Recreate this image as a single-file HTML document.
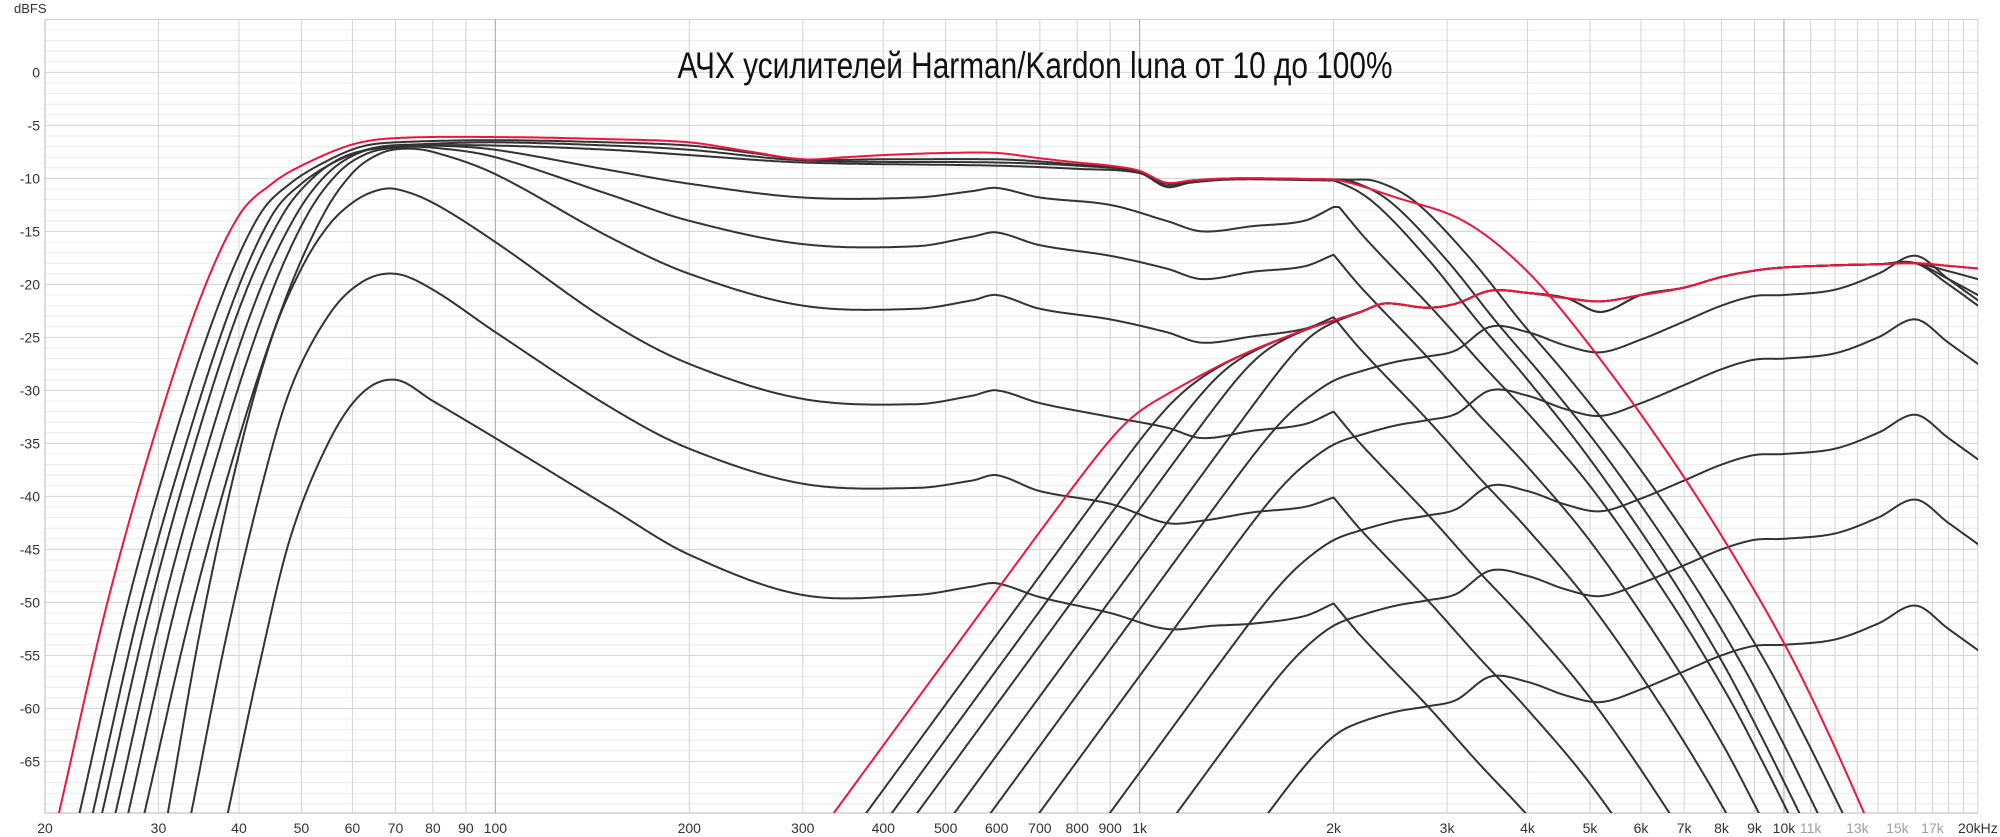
<!DOCTYPE html>
<html><head><meta charset="utf-8">
<style>
html,body{margin:0;padding:0;background:#fff;}
svg{display:block;}
text{font-family:"Liberation Sans","DejaVu Sans",sans-serif;}
</style></head>
<body>
<svg id="c" width="2000" height="837" viewBox="0 0 2000 837" xmlns="http://www.w3.org/2000/svg">
<rect width="2000" height="837" fill="#fff"/>
<g id="grid"></g>
<g id="labels" font-size="14" fill="#333"></g>
<text x="1035" y="78" font-size="37" fill="#111" text-anchor="middle" textLength="715" lengthAdjust="spacingAndGlyphs" font-family="Liberation Sans, Noto Sans CJK SC, sans-serif">АЧХ усилителей Harman/Kardon luna от 10 до 100%</text>
<text x="14" y="13" font-size="13" fill="#333">dBFS</text>
<defs><clipPath id="cp"><rect x="45" y="19.5" width="1933" height="793.5"/></clipPath></defs>
<g id="curves" clip-path="url(#cp)" fill="none" stroke-linejoin="round" stroke-linecap="round"></g>
</svg>
<script>
const L=45,R=1978,T=19.5,B=813;
const X=f=>45+644.3*Math.log10(f/20);
const Y=d=>72.4-10.6*d;
const NS="http://www.w3.org/2000/svg";
function el(p,n,a,t){const e=document.createElementNS(NS,n);for(const k in a)e.setAttribute(k,a[k]);if(t!==undefined)e.textContent=t;p.appendChild(e);return e;}
const grid=document.getElementById('grid'),lab=document.getElementById('labels'),cur=document.getElementById('curves');
for(let d=5;d>=-69;d--){const y=Y(d);el(grid,'line',{x1:L,x2:R,y1:y,y2:y,stroke:(d%5===0)?'#d2d2d2':'#ececec','stroke-width':1});}
el(grid,'line',{x1:L,x2:R,y1:T,y2:T,stroke:'#d2d2d2','stroke-width':1});
el(grid,'line',{x1:L,x2:R,y1:B,y2:B,stroke:'#cfcfcf','stroke-width':1.5});
const vf=[];for(let f=20;f<100;f+=10)vf.push(f);for(let f=100;f<1000;f+=100)vf.push(f);for(let f=1000;f<10000;f+=1000)vf.push(f);for(let f=10000;f<=20000;f+=1000)vf.push(f);
vf.forEach(f=>{const x=X(f);const major=(f===100||f===1000||f===10000);el(grid,'line',{x1:x,x2:x,y1:T,y2:B,stroke:major?'#a4a4a4':'#d4d4d4','stroke-width':1});});
el(grid,'line',{x1:L,x2:L,y1:T,y2:B,stroke:'#cfcfcf','stroke-width':1.5});
for(let d=0;d>=-65;d-=5){el(lab,'text',{x:40,y:Y(d)+5,'text-anchor':'end'},String(d));}
const xl=[[20,'20'],[30,'30'],[40,'40'],[50,'50'],[60,'60'],[70,'70'],[80,'80'],[90,'90'],[100,'100'],[200,'200'],[300,'300'],[400,'400'],[500,'500'],[600,'600'],[700,'700'],[800,'800'],[900,'900'],[1000,'1k'],[2000,'2k'],[3000,'3k'],[4000,'4k'],[5000,'5k'],[6000,'6k'],[7000,'7k'],[8000,'8k'],[9000,'9k'],[10000,'10k'],[11000,'11k',1],[13000,'13k',1],[15000,'15k',1],[17000,'17k',1],[20000,'20kHz']];
xl.forEach(a=>{const t=el(lab,'text',{x:X(a[0]),y:833,'text-anchor':'middle'},a[1]);if(a[2])t.setAttribute('fill','#a0a0a0');});

function mk(pts){const xs=pts.map(p=>Math.log10(p[0])),ys=pts.map(p=>p[1]);const n=xs.length;const m=[];
 for(let i=0;i<n;i++){if(i===0)m.push((ys[1]-ys[0])/(xs[1]-xs[0]));else if(i===n-1)m.push((ys[n-1]-ys[n-2])/(xs[n-1]-xs[n-2]));else m.push((ys[i+1]-ys[i-1])/(xs[i+1]-xs[i-1]));}
 return function(f){const x=Math.log10(f);
  if(x<=xs[0])return ys[0]+m[0]*(x-xs[0]);
  if(x>=xs[n-1])return ys[n-1]+m[n-1]*(x-xs[n-1]);
  let i=0;while(x>xs[i+1])i++;const h=xs[i+1]-xs[i],t=(x-xs[i])/h;
  const h00=2*t*t*t-3*t*t+1,h10=t*t*t-2*t*t+t,h01=-2*t*t*t+3*t*t,h11=t*t*t-t*t;
  return h00*ys[i]+h10*h*m[i]+h01*ys[i+1]+h11*h*m[i+1];};}
function softmin(a,b,k){const mn=Math.min(a,b);return mn-k*Math.log(Math.exp((mn-a)/k)+Math.exp((mn-b)/k));}
function draw(fn,color,w){let d='';let first=true;
 for(let lx=Math.log10(19);lx<=Math.log10(21000);lx+=0.0015){const f=Math.pow(10,lx);let v=fn(f);if(v<-75)v=-75;if(v>10)v=10;
  d+=(first?'M':'L')+X(f).toFixed(1)+' '+Y(v).toFixed(1);first=false;}
 el(cur,'path',{d:d,stroke:color,'stroke-width':w});}

const Rdef=mk([[2000,0],[2200,-3],[2800,-9.7],[3350,-15],[4000,-20],[5000,-27],[6500,-37],[8000,-46],[9200,-53],[10300,-59],[11300,-64],[12000,-67],[12600,-70],[13300,-74]]);
const Rsm0=mk([[1500,0],[1800,0],[2000,-0.2],[2300,-2.2],[2800,-7.6],[3350,-13.5],[4000,-19],[5000,-26.5],[6500,-36.5],[8000,-45.5],[9200,-52.5],[10300,-58.5],[11300,-63.5],[12000,-66.5],[12600,-69.5],[13300,-73.5]]);
const Rtop0=mk([[1500,0],[2000,-0.3],[2500,-2],[3200,-4.3],[4000,-9],[5000,-16],[6500,-25.5],[8300,-35.5],[10500,-46.5],[13300,-60],[15000,-68]]);
const Rtop=f=>Rtop0(f)-Rtop0(2000);
function woofer(pts,s,mode){const p=mk(pts);const last=pts[pts.length-1][1];
 const sm0=Rsm0(2000/s);
 return f=>{if(f<=2000)return p(f);if(mode==='top')return last+Rtop(f);if(mode==='sm')return last+Rsm0(f/s)-sm0;const r=f/s<2000?0:Rdef(f/s);return last+r;};}
const W=[
 [[[38.4,-70],[43,-56],[48,-44],[55,-35],[62,-30.3],[70,-29],[80,-31],[100,-34.5],[150,-41],[200,-45.5],[300,-49.3],[450,-49.3],[550,-48.5],[600,-48.2],[700,-49.5],[900,-51],[1100,-52.5],[1300,-52.2],[1500,-52],[1800,-51.3],[2000,-50.1]],1,''],
 [[[33.7,-70],[38,-54],[43,-40],[48,-30],[55,-23],[62,-19.8],[70,-19],[80,-20.5],[100,-24.5],[150,-31.5],[200,-35.5],[300,-38.8],[450,-39.2],[550,-38.5],[600,-38],[700,-39.5],[900,-40.7],[1100,-42.5],[1250,-42.3],[1500,-41.5],[1800,-41],[2000,-40.1]],1,''],
 [[[31,-70],[35,-52],[40,-36],[45,-25],[50,-18.5],[55,-14.5],[60,-12.3],[65,-11.2],[70,-11],[80,-12.3],[100,-16],[150,-23.5],[200,-27.5],[300,-30.8],[450,-31.3],[550,-30.5],[600,-30],[700,-31.2],[900,-32.5],[1100,-33.5],[1250,-34.5],[1500,-33.8],[1800,-33.2],[2000,-32]],1,''],
 [[[28.5,-70],[34,-50],[40.7,-33],[47.5,-21],[54,-13.5],[60,-9.5],[66,-7.7],[72,-7.2],[80,-7.5],[100,-9.6],[150,-15.5],[200,-19],[300,-22],[450,-22.3],[550,-21.5],[600,-21],[700,-22.3],[900,-23.3],[1100,-24.5],[1250,-25.5],[1500,-24.9],[1800,-24.2],[2000,-23.1]],1,''],
 [[[26.9,-70],[32,-50],[38.4,-33],[44.8,-21],[51,-13.5],[57,-9.5],[63,-7.7],[70,-7.1],[80,-7.1],[100,-8],[150,-11.5],[200,-14],[300,-16.2],[450,-16.4],[550,-15.5],[600,-15.1],[700,-16.3],[900,-17.3],[1100,-18.5],[1250,-19.5],[1500,-18.8],[1800,-18.3],[2000,-17.2]],1,''],
 [[[25.7,-70],[30.6,-50],[36.7,-33],[42.8,-21],[49,-13.5],[55,-9.5],[62,-7.5],[70,-7],[80,-6.9],[100,-7.3],[150,-9.2],[200,-10.5],[300,-11.8],[450,-11.8],[550,-11.2],[600,-10.9],[700,-11.8],[900,-12.5],[1100,-14],[1250,-15],[1500,-14.5],[1800,-14],[2000,-12.7]],1.02,''],
 [[[24.5,-70],[29.2,-50],[35,-33],[40.8,-21],[46.7,-13.5],[52,-10],[58,-8],[65,-7.2],[75,-6.9],[100,-6.9],[150,-7.3],[200,-7.8],[300,-8.5],[600,-8.8],[800,-9.1],[1000,-9.5],[1100,-10.8],[1200,-10.4],[1400,-10.1],[2000,-10.2]],1.0,'sm'],
 [[[23.7,-70],[28.2,-50],[33.9,-33],[39.5,-21],[45,-13.5],[50,-10.5],[57,-8.3],[65,-7.1],[75,-6.8],[100,-6.6],[150,-6.9],[200,-7.3],[300,-8.3],[600,-8.5],[800,-8.8],[1000,-9.4],[1100,-10.7],[1200,-10.3],[1400,-10],[2000,-10.1]],1.07,'sm'],
 [[[22.6,-70],[26.9,-50],[32.3,-33],[37.7,-21],[43,-13.5],[48,-10.5],[55,-8.3],[62,-7],[70,-6.6],[100,-6.4],[150,-6.6],[200,-6.9],[250,-7.6],[300,-8.2],[400,-8.2],[600,-8.2],[700,-8.4],[800,-8.7],[900,-8.9],[1000,-9.3],[1100,-10.5],[1200,-10.2],[1400,-10],[2000,-10.1]],1.17,'sm']
];
const redW=woofer([[21,-70],[25,-50],[30,-33],[35,-21],[40,-13.5],[45,-10.5],[50,-8.8],[60,-6.8],[70,-6.2],[100,-6.1],[150,-6.3],[200,-6.6],[250,-7.5],[300,-8.2],[350,-8],[400,-7.8],[500,-7.6],[600,-7.6],[700,-8.1],[800,-8.5],[900,-8.8],[1000,-9.3],[1100,-10.4],[1200,-10.2],[1400,-10],[2000,-10.1]],1,'top');

function ptop(dip,end){return mk([[400,-50],[500,-45],[700,-38],[900,-33],[1100,-30.3],[1400,-27],[1800,-24.3],[2000,-23.4],[2200,-22.6],[2400,-21.8],[2800,-22.2],[3100,-21.8],[3500,-20.6],[4000,-20.8],[4600,-21.3],[5200,dip],[6000,-21],[7000,-20.3],[8000,-19.3],[9000,-18.7],[10000,-18.4],[12000,-18.2],[14000,-18.1],[16000,-18],[18000,(end+(-18))/2],[20000,end]]);}
const S=[[1500,-9],[1800,-6.5],[2000,-5],[2200,-4.2],[2500,-3.3],[2800,-2.8],[3100,-2.2],[3500,0],[4000,-0.5],[4600,-1.8],[5200,-2.4],[6000,-1.2],[7000,0.5],[8000,2],[9000,2.9],[10000,3],[12000,3.5],[14000,5],[16000,6.7],[18000,4.5],[20000,2.5]];
function tw(f70,P){return f=>softmin(-70+25*Math.log2(f/f70),P(f),1.3);}
const Tw=[];
[[585,-24],[696,-30],[896,-39],[1138,-47],[1576,-57]].forEach(a=>{const P=mk(S.map(p=>[p[0],p[1]+a[1]]));Tw.push(tw(a[0],P));});
Tw.push(tw(375,ptop(-21.6,-18.5)));
Tw.push(tw(411,ptop(-22.6,-19.5)));
Tw.push(tw(450,ptop(-21.6,-21)));
Tw.push(tw(514,ptop(-22.6,-22)));
const redT=tw(334,ptop(-21.6,-18.5));

W.forEach(w=>draw(woofer(w[0],w[1],w[2]),'#333',2));
Tw.forEach(t=>draw(t,'#333',2));
draw(redT,'#f0143c',2);
draw(redW,'#f0143c',2);
</script>
</body></html>
